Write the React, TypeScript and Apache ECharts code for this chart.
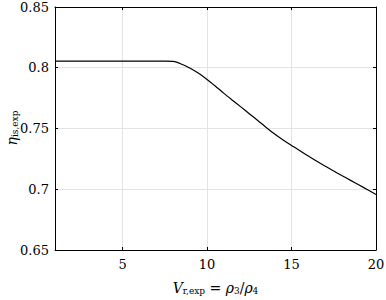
import React, { useEffect, useRef } from "react";
import * as echarts from "echarts";

const xValues = [1, 2, 3, 4, 5, 6, 7, 7.5, 8, 8.5, 9, 9.5, 10, 10.5, 11, 11.5, 12, 12.5, 13, 13.5, 14, 14.5, 15, 15.5, 16, 16.5, 17, 17.5, 18, 18.5, 19, 19.5, 20];
const etaValues = [0.8055, 0.8055, 0.8055, 0.8055, 0.8055, 0.8055, 0.8055, 0.8055, 0.8052, 0.8029, 0.7996, 0.7954, 0.7904, 0.7848, 0.7789, 0.7733, 0.7678, 0.7622, 0.7566, 0.7509, 0.7455, 0.7406, 0.7361, 0.7316, 0.7273, 0.723, 0.7189, 0.715, 0.7111, 0.7073, 0.7035, 0.6996, 0.6956];
const xTicks = [5, 10, 15, 20];
const yTicks = [0.65, 0.7, 0.75, 0.8, 0.85];

const FONT = "DejaVu Serif";

export default function App() {
  const ref = useRef<HTMLDivElement>(null);
  useEffect(() => {
    if (!ref.current) return;
    document.body.style.margin = "0";
    const chart = echarts.init(ref.current, null, { renderer: "svg" });
    const data = xValues.map((x, i) => [x, etaValues[i]]);
    const sub = { fontFamily: FONT, fontSize: 9, color: "#000", padding: [6, 0, 0, 0] };
    const it = { fontFamily: FONT, fontSize: 14, fontStyle: "italic", color: "#000" };
    const nm = { fontFamily: FONT, fontSize: 14, color: "#000" };
    const axisLine = { show: true, lineStyle: { color: "#000", width: 1 } };
    const tick = { show: true, inside: true, length: 3, lineStyle: { color: "#000" } };
    const labelStyle = { fontFamily: FONT, fontSize: 13, color: "#000" };
    chart.setOption({
      animation: false,
      backgroundColor: "#fff",
      textStyle: { fontFamily: FONT },
      grid: { left: 55, right: 10, top: 7, bottom: 50, show: false, outerBoundsMode: "none", containLabel: false },
      graphic: [
        {
          type: "text",
          x: 12,
          y: 128,
          rotation: Math.PI / 2,
          style: {
            text: "{i|η}{s|is,exp}",
            x: 0,
            y: 0,
            align: "center",
            verticalAlign: "middle",
            fontFamily: FONT,
            rich: { i: it, s: sub },
          },
        },
      ],
      xAxis: [
        {
          type: "value",
          min: 1,
          max: 20,
          axisLine,
          axisLabel: { ...labelStyle, margin: 8, customValues: xTicks },
          axisTick: { ...tick, customValues: xTicks },
          splitLine: { show: true, lineStyle: { color: "#e3e3e3", width: 1 } },
          name: "{i|V}{s|r,exp}{n| = }{i|ρ}{s|3}{n|/}{i|ρ}{s|4}",
          nameLocation: "middle",
          nameGap: 30,
          nameTextStyle: { fontFamily: FONT, rich: { i: it, s: sub, n: nm } },
        },
        {
          type: "value",
          position: "top",
          min: 1,
          max: 20,
          axisLine,
          axisTick: { ...tick, customValues: xTicks },
          axisLabel: { show: false, customValues: xTicks },
          splitLine: { show: false },
        },
      ],
      yAxis: [
        {
          type: "value",
          min: 0.65,
          max: 0.85,
          interval: 0.05,
          axisLine,
          axisTick: tick,
          axisLabel: {
            ...labelStyle,
            margin: 6,
            formatter: (v: number) => {
              const r = Math.round(v * 100) / 100;
              return yTicks.includes(r) ? String(r) : "";
            },
          },
          splitLine: { show: true, lineStyle: { color: "#e3e3e3", width: 1 } },
        },
        {
          type: "value",
          position: "right",
          min: 0.65,
          max: 0.85,
          interval: 0.05,
          axisLine,
          axisTick: tick,
          axisLabel: { show: false },
          splitLine: { show: false },
        },
      ],
      series: [
        {
          type: "line",
          data,
          smooth: 0.3,
          showSymbol: false,
          lineStyle: { color: "#000", width: 1.2 },
        },
      ],
    });
    return () => chart.dispose();
  }, []);
  return <div ref={ref} style={{ width: 386, height: 300 }} />;
}
